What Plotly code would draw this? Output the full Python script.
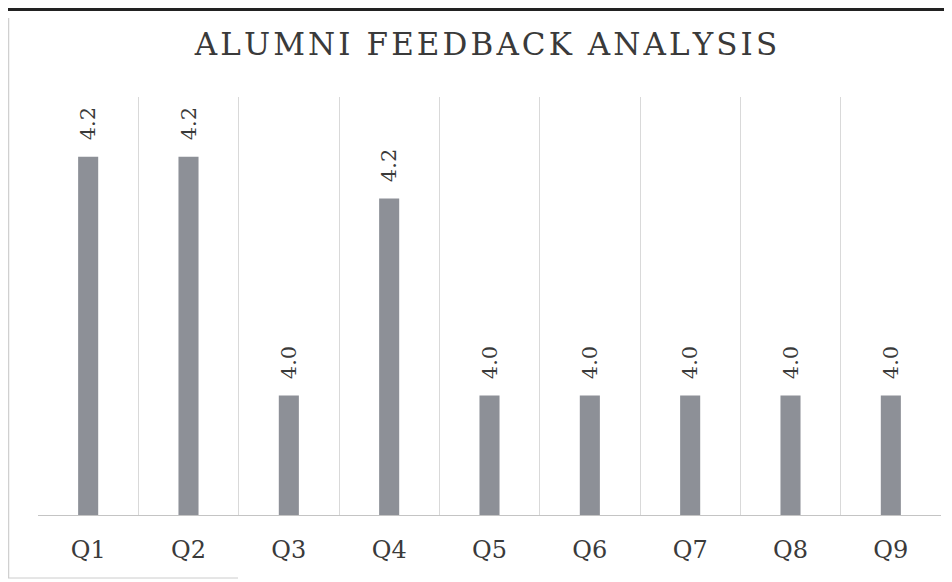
import plotly.graph_objects as go

categories = ["Q1", "Q2", "Q3", "Q4", "Q5", "Q6", "Q7", "Q8", "Q9"]
values = [4.20, 4.20, 4.00, 4.165, 4.00, 4.00, 4.00, 4.00, 4.00]
title_text = "ALUMNI FEEDBACK ANALYSIS"

serif = "DejaVu Serif, Liberation Serif, serif"
W, H = 944, 574          # page body has an 8px margin in the browser
L, T, PW, PH = 30, 89, 903, 418

spaced_title = "\u200a".join(title_text)

fig = go.Figure(go.Bar(
    x=categories, y=values, width=0.2,
    marker=dict(color="#8d9097", line=dict(width=0)),
    texttemplate="\u00a0\u00a0%{y:.1f}", textposition="outside", textangle=-90,
    constraintext="none",
    textfont=dict(family=serif, size=21, color="#3a3a3a"),
    cliponaxis=False,
))

fig.update_layout(
    width=W, height=H,
    margin=dict(l=L, r=W - L - PW, t=T, b=H - T - PH),
    paper_bgcolor="white", plot_bgcolor="white",
    title=dict(text=spaced_title, x=(486 - 8 - L) / PW, xanchor="center", xref="paper",
               y=1 - 36.5 / H, yref="container", yanchor="middle",
               font=dict(family=serif, size=31, color="#3a3a3a")),
    bargap=0.8, showlegend=False,
    xaxis=dict(type="category", tickson="boundaries", showgrid=True,
               gridcolor="#d9d9d9", gridwidth=1,
               showline=True, linecolor="#c4c4c4", linewidth=1,
               ticks="", ticklabelstandoff=13,
               tickfont=dict(family=serif, size=24, color="#3a3a3a")),
    yaxis=dict(range=[3.9, 4.25], visible=False, showgrid=False, zeroline=False),
    shapes=[
        dict(type="line", xref="paper", yref="paper", x0=-L / PW, x1=1.02,
             y0=1 + (T - 1.5) / PH, y1=1 + (T - 1.5) / PH,
             line=dict(color="#222222", width=3)),
        dict(type="line", xref="paper", yref="paper", x0=-(L - 0.5) / PW, x1=-(L - 0.5) / PW,
             y0=-(H - T - PH - 4) / PH, y1=1 + (T - 10) / PH,
             line=dict(color="#d0d0d0", width=1.5)),
        dict(type="line", xref="paper", yref="paper", x0=-L / PW, x1=200 / PW,
             y0=-(H - T - PH - 4) / PH, y1=-(H - T - PH - 4) / PH,
             line=dict(color="#cccccc", width=1)),
    ],
)

fig.write_html("out.html")
